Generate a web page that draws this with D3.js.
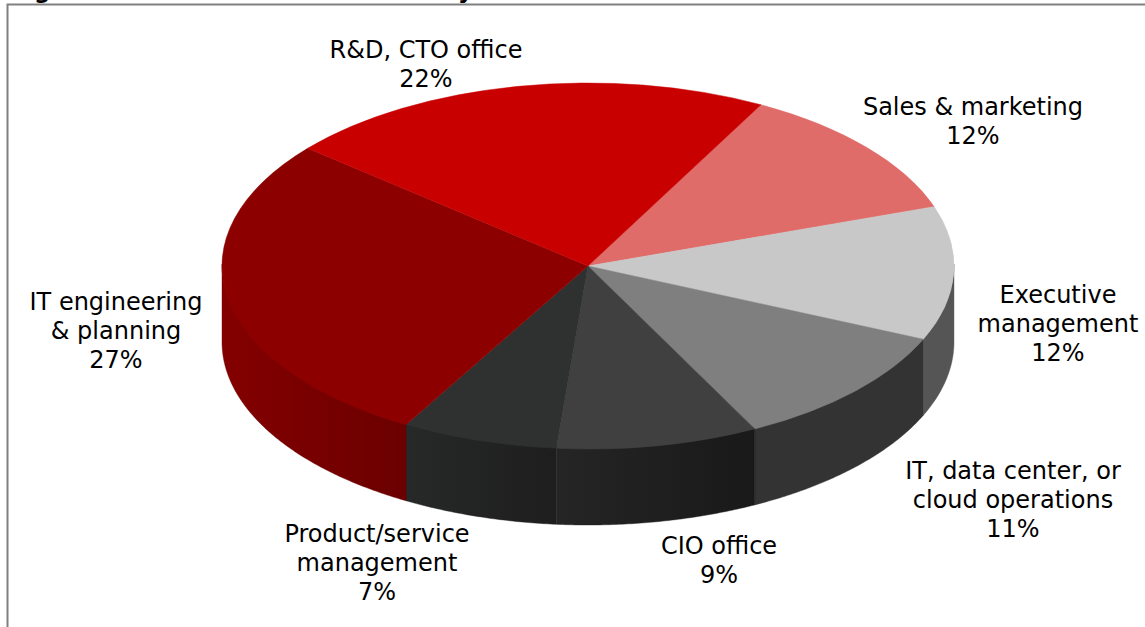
<!DOCTYPE html>
<html>
<head>
<meta charset="utf-8">
<script src="https://cdn.jsdelivr.net/npm/d3@7"></script>
<style>
html,body{margin:0;padding:0;background:#fff;overflow:hidden}
svg{display:block}
text{font-family:"DejaVu Sans",sans-serif;fill:#000}
</style>
</head>
<body>
<script>
// Data, in clockwise pie order
const categories = ["Sales & marketing","Executive management","IT, data center, or cloud operations","CIO office","Product/service management","IT engineering & planning","R&D, CTO office"];
// Slice sizes; the printed labels are rounded
const values = [11.9,11.8,10.9,8.9,6.9,27.8,21.7];
const percentLabels = ["12%","12%","11%","9%","7%","27%","22%"];

// Styling and layout
const labelLines = [["Sales & marketing"],["Executive","management"],["IT, data center, or","cloud operations"],["CIO office"],["Product/service","management"],["IT engineering","& planning"],["R&D, CTO office"]];
const labelCentres = [973,1058,1013,719,377,116,426];
const labelFirstBaselines = [114.5,302.5,478.5,553.5,541.5,309.5,57.5];
const topColors = ["#e06c6a","#c8c8c8","#7f7f7f","#404040","#2f3130","#8c0000","#c80000"];
const wallColorsLeft = ["#555555","#555555","#333333","#252525","#272828","#840000","#840000"];
const wallColorsRight = ["#555555","#555555","#333333","#191919","#1e1e1e","#6b0000","#6b0000"];

const W = 1145, H = 627, TAU = 2*Math.PI;
const startAngle = 28.2/360*TAU;
const depth = 76;
const x = d3.scaleLinear().domain([-1,1]).range([222,954]);
const y = d3.scaleLinear().domain([-1,1]).range([83,449]);
const cx = x(0), cy = y(0);

const svg = d3.select("body").append("svg").attr("width",W).attr("height",H).attr("viewBox",`0 0 ${W} ${H}`);
svg.append("rect").attr("width",W).attr("height",H).attr("fill","#fff");

// Frame
svg.append("path").attr("d",`M7.5,${H}V4.5H${W}`).attr("fill","none").attr("stroke","#808080").attr("stroke-width",2);

// Descenders of the cropped title
const cropped = svg.append("g").attr("clip-path","url(#titleClip)");
svg.append("clipPath").attr("id","titleClip").append("rect").attr("width",W).attr("height",4);
cropped.selectAll("text").data([["g",34],["y",458]]).join("text")
  .attr("x",d=>d[1]).attr("y",-2).attr("font-size",23).attr("font-weight","bold").text(d=>d[0]);

const pie = d3.pie().sort(null).value(d=>d).startAngle(startAngle).endAngle(startAngle+TAU);
const arcs = pie(values);

const defs = svg.append("defs");
arcs.forEach((d,i)=>{
  const g = defs.append("linearGradient").attr("id","wall"+i);
  g.append("stop").attr("offset","0%").attr("stop-color",wallColorsLeft[i]);
  g.append("stop").attr("offset","100%").attr("stop-color",wallColorsRight[i]);
});

// Walls: the part of each slice facing the viewer (angles from 90 to 270 degrees clockwise from top)
const line = d3.line();
function wallPath(d){
  const a0 = Math.max(d.startAngle, TAU/4), a1 = Math.min(d.endAngle, 3*TAU/4);
  if(a1 <= a0) return null;
  const n = Math.ceil((a1-a0)/TAU*720);
  const angs = d3.range(n+1).map(k=>a0+(a1-a0)*k/n);
  const lower = angs.map(a=>[x(Math.sin(a)), y(-Math.cos(a))+depth]);
  const upper = angs.slice().reverse().map(a=>[x(Math.sin(a)), y(-Math.cos(a))-2]);
  return line(lower.concat(upper))+"Z";
}
svg.append("g").selectAll("path").data(arcs.filter(d=>wallPath(d))).join("path")
  .attr("d",wallPath)
  .attr("fill",d=>`url(#wall${d.index})`)
  .attr("stroke",d=>wallColorsRight[d.index])
  .attr("stroke-width",0.4);

// Top face
const R = 1000;
const arc = d3.arc().innerRadius(0).outerRadius(R);
svg.append("g")
  .attr("transform",`translate(${cx},${cy}) scale(${(x(1)-x(-1))/2/R},${(y(1)-y(-1))/2/R})`)
  .selectAll("path").data(arcs).join("path")
  .attr("d",arc)
  .attr("fill",d=>topColors[d.index])
  .attr("stroke",d=>topColors[d.index])
  .attr("stroke-width",0.5)
  .attr("vector-effect","non-scaling-stroke");

// Labels
const lh = 29;
const labels = svg.append("g").attr("text-anchor","middle").attr("font-size",24);
categories.forEach((c,i)=>{
  const t = labels.append("text").attr("x",labelCentres[i]).attr("y",labelFirstBaselines[i]);
  labelLines[i].concat([percentLabels[i]]).forEach((s,k)=>{
    t.append("tspan").attr("x",labelCentres[i]).attr("y",labelFirstBaselines[i]+k*lh).text(s);
  });
});
</script>
</body>
</html>
